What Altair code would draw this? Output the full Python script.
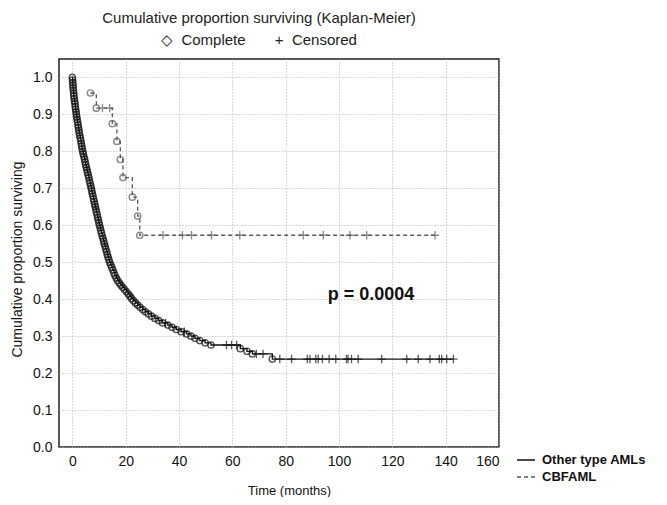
import altair as alt
import pandas as pd

# ---- data ----
other_event_t = [0.0, 0.1, 0.15, 0.25, 0.3, 0.4, 0.5, 0.6, 0.7, 0.85, 1.0, 1.1, 1.25, 1.4, 1.5,
                 1.65, 1.8, 2.0, 2.15, 2.3, 2.45, 2.6, 2.8, 3.0, 3.2, 3.35, 3.55, 3.7, 3.9, 4.1,
                 4.35, 4.6, 4.8, 5.0, 5.25, 5.5, 5.7, 5.95, 6.2, 6.4, 6.65, 6.9, 7.1, 7.3, 7.5,
                 7.75, 7.95, 8.2, 8.4, 8.6, 8.85, 9.05, 9.3, 9.5, 9.75, 9.95, 10.2, 10.45, 10.7,
                 10.95, 11.2, 11.5, 11.75, 12.0, 12.3, 12.55, 12.85, 13.1, 13.4, 13.7, 14.0, 14.4,
                 14.8, 15.2, 15.6, 16.0, 16.5, 17.0, 17.6, 18.2, 18.9, 19.6, 20.3, 21.0, 21.6,
                 22.2, 22.9, 23.7, 24.5, 25.4, 26.4, 27.4, 28.5, 29.7, 31.0, 32.4, 33.8, 35.8,
                 37.4, 39.0, 40.8, 42.8, 44.5, 46.0, 47.8, 49.8, 52.0, 63.0, 65.5, 67.5, 75.0]
other_event_s = [1.000, 0.993, 0.986, 0.979, 0.972, 0.965, 0.957, 0.950, 0.943, 0.936, 0.929,
                 0.921, 0.914, 0.907, 0.900, 0.893, 0.886, 0.879, 0.871, 0.864, 0.857, 0.850,
                 0.843, 0.836, 0.829, 0.821, 0.814, 0.807, 0.800, 0.793, 0.786, 0.779, 0.771,
                 0.764, 0.757, 0.750, 0.743, 0.736, 0.729, 0.721, 0.714, 0.707, 0.700, 0.693,
                 0.686, 0.679, 0.671, 0.664, 0.657, 0.650, 0.643, 0.636, 0.629, 0.621, 0.614,
                 0.607, 0.600, 0.593, 0.586, 0.579, 0.571, 0.564, 0.557, 0.550, 0.543, 0.536,
                 0.529, 0.521, 0.514, 0.507, 0.500, 0.493, 0.486, 0.479, 0.471, 0.464, 0.457,
                 0.450, 0.444, 0.438, 0.432, 0.426, 0.420, 0.414, 0.408, 0.402, 0.396, 0.390,
                 0.384, 0.378, 0.372, 0.366, 0.360, 0.354, 0.348, 0.342, 0.336, 0.330, 0.324,
                 0.318, 0.312, 0.306, 0.300, 0.294, 0.288, 0.282, 0.276, 0.266, 0.259, 0.252,
                 0.238]
other_cens_t = [35.0, 42.0, 57.8, 59.7, 61.6, 69.0, 71.5, 77.8, 82.2, 88.1, 89.1, 91.3, 92.2,
                93.8, 96.3, 98.8, 102.8, 103.4, 104.7, 107.2, 116.0, 125.4, 129.7, 134.1, 137.6,
                138.5, 140.4, 142.9]

cbf_event_t = [6.8, 9.0, 15.0, 16.7, 18.0, 19.0, 22.5, 24.5, 25.3]
cbf_event_s = [0.958, 0.917, 0.875, 0.827, 0.778, 0.729, 0.676, 0.625, 0.573]
cbf_cens_t = [11.3, 14.0, 34.0, 41.3, 44.7, 52.2, 62.8, 86.6, 94.1, 104.1, 110.4, 136.0]

groups = ["Other type AMLs", "CBFAML"]
group_colors = ["#111111", "#5a5a5a"]
p_label = ["p = 0.0004"]
p_t = [95.8]
p_s = [0.411]
x_ticks = [0, 20, 40, 60, 80, 100, 120, 140, 160]
y_ticks = [0.0, 0.1, 0.2, 0.3, 0.4, 0.5, 0.6, 0.7, 0.8, 0.9, 1.0]


def step_lookup(ev_t, ev_s, times):
    out = []
    for t in times:
        s = 1.0
        for et, es in zip(ev_t, ev_s):
            if et <= t:
                s = es
        out.append(s)
    return out


ev = pd.concat([
    pd.DataFrame({"t": other_event_t, "s": other_event_s, "group": groups[0]}),
    pd.DataFrame({"t": cbf_event_t, "s": cbf_event_s, "group": groups[1]}),
])
ce = pd.concat([
    pd.DataFrame({"t": other_cens_t,
                  "s": step_lookup(other_event_t, other_event_s, other_cens_t),
                  "group": groups[0]}),
    pd.DataFrame({"t": cbf_cens_t,
                  "s": step_lookup(cbf_event_t, cbf_event_s, cbf_cens_t),
                  "group": groups[1]}),
])
ln = pd.concat([ev, ce]).sort_values(["group", "t"]).reset_index(drop=True)
ptxt = pd.DataFrame({"t": p_t, "s": p_s, "label": p_label})

FONT = "Liberation Sans"
NB = "\u00a0"
xs = alt.Scale(domain=[-5, 160], nice=False, zero=False)
ys = alt.Scale(domain=[0, 1.05], nice=False, zero=False)

X = alt.X("t:Q", scale=xs, axis=alt.Axis(
    title="Time (months)", values=x_ticks, format="d", grid=True, labelPadding=7,
    titleX=230, titleY=50, titleBaseline="bottom", titleAlign="center"))
Y = alt.Y("s:Q", scale=ys, axis=alt.Axis(
    title="Cumulative proportion surviving", values=y_ticks, format=".1f", grid=True,
    labelPadding=7, titleX=-42, titleY=200, titleAngle=270, titleBaseline="middle",
    titleAlign="center", titleFontSize=14))

leg = alt.Legend(title=None, orient="none", legendX=457, legendY=391,
                 symbolType="stroke", symbolSize=324, symbolStrokeWidth=1.5,
                 labelFont=FONT, labelFontSize=13, labelFontWeight="bold",
                 labelColor="#111", labelOffset=6, rowPadding=0)

lines = alt.Chart(ln).mark_line(interpolate="step-after", strokeWidth=1.3).encode(
    x=X, y=Y,
    color=alt.Color("group:N", scale=alt.Scale(domain=groups, range=group_colors), legend=leg),
    strokeDash=alt.StrokeDash("group:N", scale=alt.Scale(domain=groups, range=[[1, 0], [4, 3]]),
                              legend=leg),
    order="t:Q",
)

layers = [lines]
for g, c in zip(groups, group_colors):
    layers.append(
        alt.Chart(ev).transform_filter(alt.datum.group == g)
        .mark_point(shape="circle", filled=False, size=40, strokeWidth=1.4, color=c)
        .encode(x=X, y=Y))
    layers.append(
        alt.Chart(ce).transform_filter(alt.datum.group == g)
        .mark_point(shape="M-1,0L1,0M0,-1L0,1", filled=False, size=70, strokeWidth=1.3, color=c)
        .encode(x=X, y=Y))

ptext = alt.Chart(ptxt).mark_text(align="left", baseline="middle", font=FONT, fontSize=18,
                                  fontWeight="bold", color="#111").encode(
    x=X, y=Y, text="label:N")
layers.append(ptext)

subtitle = "\u25c7" + NB * 2 + "Complete" + NB * 7 + "+" + NB * 2 + "Censored"

chart = alt.layer(*layers).properties(
    width=440, height=388,
    autosize=alt.AutoSizeParams(type="none"),
    padding={"left": 51, "top": 51, "right": 160, "bottom": 50},
    title=alt.TitleParams(text="Cumulative proportion surviving (Kaplan-Meier)",
                          subtitle=subtitle,
                          font=FONT, fontSize=15, fontWeight="normal", color="#222",
                          subtitleFont=FONT, subtitleFontSize=15, subtitleColor="#222",
                          subtitlePadding=7, offset=11, anchor="middle", dx=-20),
).configure_view(stroke="#222", strokeWidth=1.5).configure_axis(
    labelFont=FONT, labelFontSize=14, labelColor="#111",
    titleFont=FONT, titleFontSize=13, titleFontWeight="normal", titleColor="#111",
    gridColor="#b5b5b5", gridDash=[1, 2], gridWidth=1, domain=False, ticks=False,
)

chart.save("out.html", embed_options={"renderer": "svg", "actions": False})
